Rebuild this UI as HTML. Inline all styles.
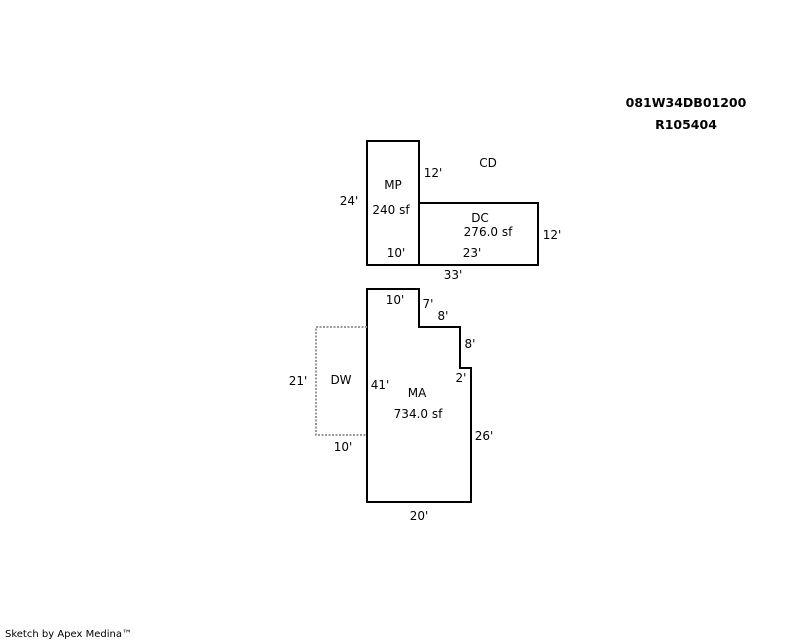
<!DOCTYPE html>
<html><head><meta charset="utf-8"><style>
html,body{margin:0;padding:0;background:#fff;width:800px;height:640px;overflow:hidden}
svg text{font-family:"DejaVu Sans","Liberation Sans",sans-serif;font-size:12px;fill:#000}
</style></head><body>
<svg width="800" height="640" viewBox="0 0 800 640" xmlns="http://www.w3.org/2000/svg">
<g fill="none" stroke="#000" stroke-width="2">
<rect x="367" y="141" width="52" height="124"/>
<rect x="419" y="203" width="119" height="62"/>
<polygon points="367,289 419,289 419,327 460,327 460,368 471,368 471,502 367,502"/>
</g>
<polyline points="367,327 316,327 316,435 367,435" fill="none" stroke="#999" stroke-width="2" stroke-dasharray="2,1.5"/>
<g text-anchor="middle">
<text x="686" y="107" style="font-weight:bold;font-size:12.5px">081W34DB01200</text>
<text x="686" y="129" style="font-weight:bold;font-size:12.5px">R105404</text>
<text x="488" y="167">CD</text>
<text x="433" y="177">12'</text>
<text x="393" y="189">MP</text>
<text x="349" y="205">24'</text>
<text x="391" y="214">240 sf</text>
<text x="480" y="222">DC</text>
<text x="488" y="236">276.0 sf</text>
<text x="552" y="239">12'</text>
<text x="396" y="257">10'</text>
<text x="472" y="257">23'</text>
<text x="453" y="279">33'</text>
<text x="395" y="304">10'</text>
<text x="428" y="308">7'</text>
<text x="443" y="320">8'</text>
<text x="470" y="348">8'</text>
<text x="298" y="385">21'</text>
<text x="341" y="384">DW</text>
<text x="380" y="389">41'</text>
<text x="461" y="382">2'</text>
<text x="417" y="397">MA</text>
<text x="418" y="418">734.0 sf</text>
<text x="484" y="440">26'</text>
<text x="343" y="451">10'</text>
<text x="419" y="520">20'</text>
</g>
<text x="5" y="637" style="font-size:10px">Sketch by Apex Medina™</text>
</svg>
</body></html>
